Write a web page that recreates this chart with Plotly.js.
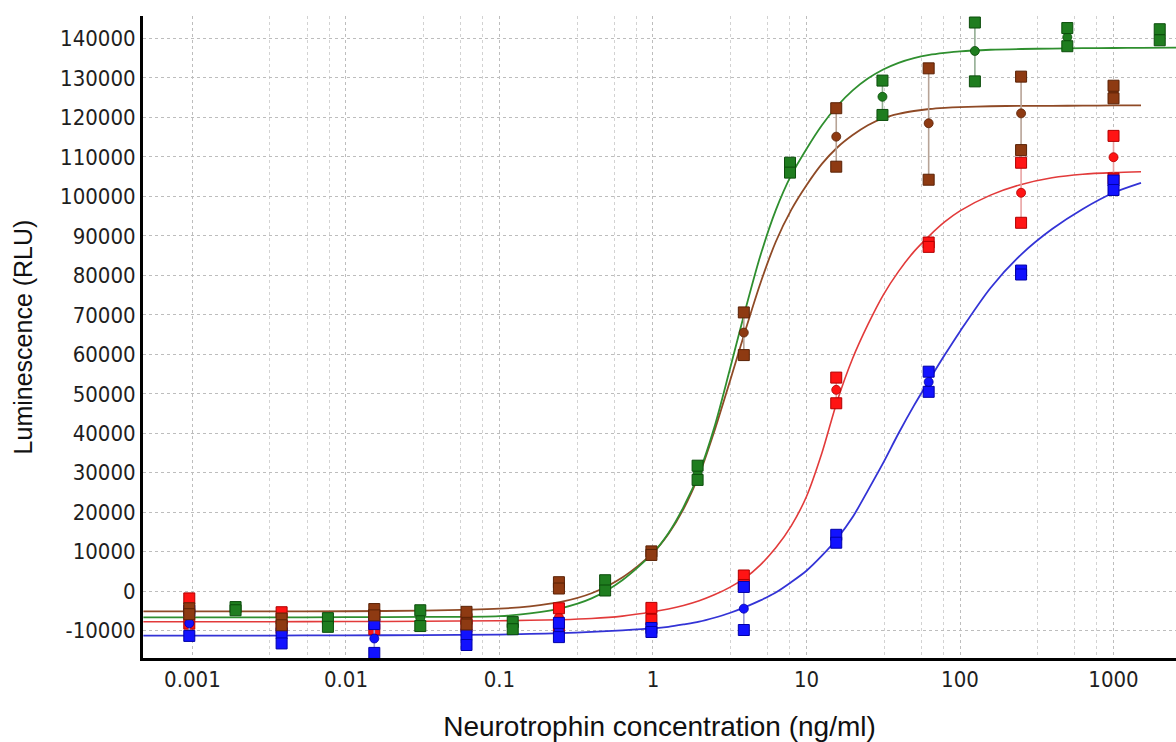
<!DOCTYPE html>
<html>
<head>
<meta charset="utf-8">
<script src="https://cdn.plot.ly/plotly-3.0.1.min.js"></script>
<style>
  html, body { margin: 0; padding: 0; background: #ffffff; }
  #chart { width: 1176px; height: 742px; }
</style>
</head>
<body>
<div id="chart"></div>
<script>
// ---------- concentrations (ng/ml) ----------
const concA = [0.000954, 0.00381, 0.0153, 0.061, 0.244, 0.977, 3.906, 15.625, 62.5, 250, 1000];
const concG = [0.00191, 0.00763, 0.0305, 0.122, 0.488, 1.953, 7.8125, 31.25, 125, 500, 2000];

// ---------- replicate values and means (RLU) ----------
const redRep1   = [-1800, -5300, -6000, -7000, -4300, -4200, 4000, 54100, 88300, 108500, 115300];
const redRep2   = [-8200, -9300, -9600, -9000, -9000, -7200, 1600, 47600, 87200, 93300, 104500];
const redMean   = [-5000, -7300, -7800, -8000, -6650, -5700, 2800, 51000, 87700, 100900, 109900];

const blueRep1  = [-4900, -10600, -8300, -11000, -8000, -9300, 1100, 14300, 55600, 81200, 104000];
const blueRep2  = [-11300, -13200, -15600, -13600, -11600, -10300, -9800, 12300, 50500, 80200, 101600];
const blueMean  = [-8100, -11900, -11950, -12300, -9800, -9800, -4400, 13300, 53000, 80700, 102800];

const brownRep1 = [-4300, -6900, -4500, -5200, 2300, 10100, 70600, 122300, 132400, 130300, 128000];
const brownRep2 = [-5800, -8600, -6100, -8400, 700, 9200, 59800, 107500, 104200, 111700, 124800];
const brownMean = [-5050, -7750, -5300, -6800, 1500, 9650, 65500, 115100, 118500, 121000, 126400];

const greenRep1 = [-4000, -6800, -4800, -7800, 2800, 31800, 108500, 129300, 144000, 142600, 142300];
const greenRep2 = [-4800, -9000, -8800, -9600, 200, 28200, 106000, 120600, 129100, 138000, 139500];
const greenMean = [-4400, -7900, -6800, -8700, 1500, 30000, 107200, 125200, 136800, 140300, 140900];

// ---------- fitted curves ----------
const curveX  = [0.000479, 0.00316, 0.01, 0.0316, 0.1, 0.158, 0.251, 0.398, 0.631, 1, 1.26, 1.58, 2.0, 2.51, 3.16, 3.98, 5.01, 6.31, 7.94, 10, 12.6, 15.8, 20.0, 25.1, 31.6, 39.8, 50.1, 63.1, 79.4, 100, 158, 251, 398, 631, 1000, 1510];
const curveXG = [0.000479, 0.00316, 0.01, 0.0316, 0.1, 0.158, 0.251, 0.398, 0.631, 1, 1.26, 1.58, 2.0, 2.51, 3.16, 3.98, 5.01, 6.31, 7.94, 10, 12.6, 15.8, 20.0, 25.1, 31.6, 39.8, 50.1, 63.1, 79.4, 100, 158, 251, 398, 631, 1000, 1510, 2570];
const greenFit = [-6600, -6600, -6550, -6500, -6300, -5600, -4300, -1800, 2800, 9700, 14700, 21300, 30000, 41500, 56000, 71000, 85000, 96500, 105300, 112000, 118000, 122800, 126800, 129800, 132100, 133800, 135000, 135800, 136300, 136700, 137100, 137300, 137400, 137500, 137550, 137600, 137650];
const brownFit = [-5100, -5100, -5050, -4900, -4400, -3800, -2700, -500, 3500, 9700, 14500, 20800, 29500, 40500, 53000, 65800, 78000, 88500, 96500, 102800, 108200, 112300, 115500, 118000, 119800, 120900, 121600, 122100, 122400, 122600, 122800, 122900, 122900, 122950, 123000, 123000];
const redFit   = [-7700, -7700, -7650, -7600, -7450, -7350, -7200, -6900, -6300, -5200, -4500, -3600, -2400, -900, 1000, 3400, 6700, 11000, 16500, 24000, 35000, 48000, 59000, 67500, 75000, 81000, 86000, 90000, 93500, 96300, 100300, 103000, 104700, 105600, 106000, 106200];
const blueFit  = [-11200, -11200, -11150, -11100, -10950, -10800, -10600, -10300, -9900, -9400, -9000, -8400, -7700, -6700, -5500, -4000, -2300, -300, 2300, 5200, 9000, 13300, 18800, 25500, 32500, 40000, 47000, 53500, 59800, 65800, 76800, 85300, 91700, 96800, 100900, 103400];

// ---------- axis ticks ----------
const xTickVals = [0.001, 0.01, 0.1, 1, 10, 100, 1000];
const xTickText = ["0.001", "0.01", "0.1", "1", "10", "100", "1000"];
const xMinorVals = [0.0032, 0.0056, 0.0078, 0.032, 0.056, 0.078, 0.32, 0.56, 0.78, 3.2, 5.6, 7.8, 32, 56, 78, 320, 560, 780];
const yTickVals = [-10000, 0, 10000, 20000, 30000, 40000, 50000, 60000, 70000, 80000, 90000, 100000, 110000, 120000, 130000, 140000];
const yTickText = ["-10000", "0", "10000", "20000", "30000", "40000", "50000", "60000", "70000", "80000", "90000", "100000", "110000", "120000", "130000", "140000"];

// ---------- styles ----------
const styles = {
  red:   { fill: '#ff1414', edge: '#b00000', line: '#e23a3a', err: '#e9a3a3', lw: 1.6 },
  blue:  { fill: '#1212ff', edge: '#0000a8', line: '#3333d6', err: '#a0a0d8', lw: 1.8 },
  brown: { fill: '#8e3a12', edge: '#5a2206', line: '#8f4a26', err: '#b7a396', lw: 1.8 },
  green: { fill: '#1f7d1f', edge: '#0b4d0b', line: '#2f8f2f', err: '#93ad93', lw: 1.8 }
};

function curveTrace(x, y, st) {
  return { x: x, y: y, type: 'scatter', mode: 'lines', hoverinfo: 'skip',
           line: { color: st.line, width: st.lw, shape: 'spline', smoothing: 0.8 } };
}
function seriesTraces(x, r1, r2, m, st) {
  const hi = m.map((v, i) => Math.max(r1[i], r2[i]) - v);
  const lo = m.map((v, i) => v - Math.min(r1[i], r2[i]));
  return [
    { x: x, y: m, type: 'scatter', mode: 'markers',
      marker: { symbol: 'circle', size: 9, color: st.fill, line: { color: st.edge, width: 0.8 } },
      error_y: { type: 'data', symmetric: false, array: hi, arrayminus: lo,
                 color: st.err, thickness: 1.6, width: 0 } },
    { x: x, y: r1, type: 'scatter', mode: 'markers',
      marker: { symbol: 'square', size: 11, color: st.fill, line: { color: st.edge, width: 1 } } },
    { x: x, y: r2, type: 'scatter', mode: 'markers',
      marker: { symbol: 'square', size: 11, color: st.fill, line: { color: st.edge, width: 1 } } }
  ];
}

const data = [
  curveTrace(curveX, redFit, styles.red),
  curveTrace(curveX, blueFit, styles.blue),
  curveTrace(curveX, brownFit, styles.brown),
  curveTrace(curveXG, greenFit, styles.green),
  ...seriesTraces(concA, redRep1, redRep2, redMean, styles.red),
  ...seriesTraces(concA, blueRep1, blueRep2, blueMean, styles.blue),
  ...seriesTraces(concA, brownRep1, brownRep2, brownMean, styles.brown),
  ...seriesTraces(concG, greenRep1, greenRep2, greenMean, styles.green)
];

const tickFont = { family: 'DejaVu Sans Condensed, Liberation Sans, Arial, sans-serif', size: 22, color: '#1e1e1e' };
const xTitleFont = { family: 'Liberation Sans, Arial, sans-serif', size: 28, color: '#111111' };
const yTitleFont = { family: 'Liberation Sans, Arial, sans-serif', size: 25, color: '#111111' };

const layout = {
  width: 1176, height: 742,
  margin: { l: 143, r: 0, t: 16, b: 84 },
  paper_bgcolor: '#ffffff', plot_bgcolor: '#ffffff',
  showlegend: false,
  xaxis: {
    type: 'log', range: [-3.322, 3.407],
    tickmode: 'array', tickvals: xTickVals, ticktext: xTickText,
    ticks: '', tickfont: tickFont,
    showgrid: true, gridcolor: '#bdbdbd', griddash: 'dot', gridwidth: 1,
    minor: { tickmode: 'array', tickvals: xMinorVals, showgrid: true, gridcolor: '#d2d2d2', griddash: 'dot', gridwidth: 1, ticks: '' },
    showline: true, linecolor: '#000000', linewidth: 3,
    zeroline: false, automargin: false,
    title: { text: 'Neurotrophin concentration (ng/ml)', font: xTitleFont, standoff: 25 }
  },
  yaxis: {
    range: [-16890, 145650],
    tickmode: 'array', tickvals: yTickVals, ticktext: yTickText,
    ticks: '', tickfont: tickFont,
    showgrid: true, gridcolor: '#bdbdbd', griddash: 'dot', gridwidth: 1,
    showline: true, linecolor: '#000000', linewidth: 3,
    zeroline: false, automargin: false,
    title: { text: 'Luminescence (RLU)', font: yTitleFont, standoff: 21 }
  }
};

Plotly.newPlot('chart', data, layout, { displayModeBar: false, staticPlot: true });
</script>
</body>
</html>
